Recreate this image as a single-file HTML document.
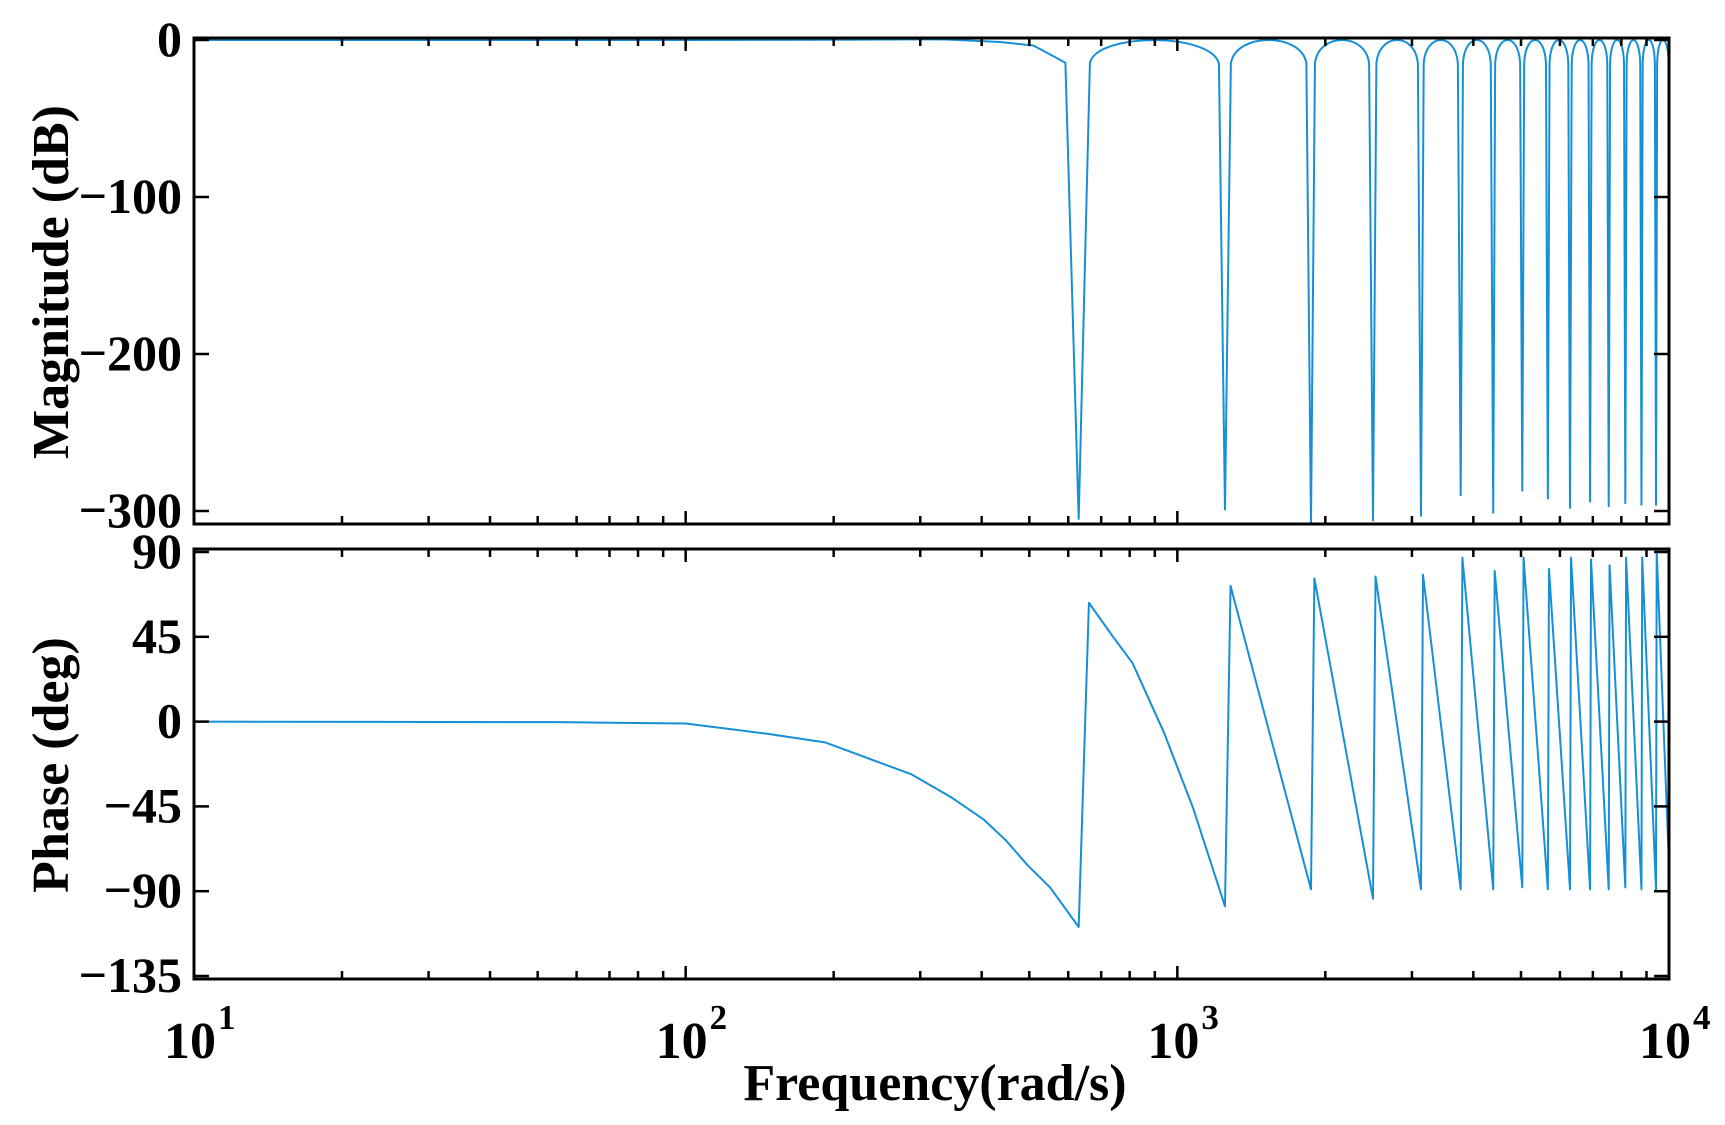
<!DOCTYPE html>
<html><head><meta charset="utf-8"><style>
html,body{margin:0;padding:0;background:#fff;}
svg{display:block;}
text{font-family:"Liberation Serif",serif;font-weight:bold;fill:#000;}
</style></head><body>
<svg id="chart" width="1725" height="1125" viewBox="0 0 1725 1125" xmlns="http://www.w3.org/2000/svg">
<defs>
<clipPath id="clipMag"><rect x="195" y="38" width="1473" height="486"/></clipPath>
<clipPath id="clipPh"><rect x="195" y="549" width="1473" height="430"/></clipPath>
</defs>
<g id="magPanel"></g>
<g id="phPanel"></g>
<text x="935" y="1100" font-size="52" text-anchor="middle">Frequency(rad/s)</text>
<text x="0" y="0" font-size="52" text-anchor="middle" transform="translate(68,282) rotate(-90)">Magnitude (dB)</text>
<text x="0" y="0" font-size="52" text-anchor="middle" transform="translate(68,765) rotate(-90)">Phase (deg)</text>
</svg>
<script>
// ---- data ----
const magLowFreq = [10, 100, 200, 300, 340, 436, 509, 535, 592];
const magLowDb   = [0, 0, 0.2, 0.4, 0.3, -1.3, -3.5, -7, -14.5];
const notchFreq  = [630,1250,1870,2500,3130,3770,4390,5030,5670,6290,6910,7540,8150,8790,9410,10030];
const notchDb    = [-305,-299,-308,-306,-303,-290,-301,-287,-292,-298,-294,-297,-295,-296,-296,-296];
const shoulderLFreq = [597,1215,1830,2455,3085,3720,4340,4980,5620,6240,6860,7490,8100,8740,9360,9990];
const shoulderRFreq = [664,1285,1905,2540,3170,3810,4430,5075,5715,6340,6960,7590,8200,8840,9460,10080];
const shoulderDb = [-14.5,-15,-15,-15,-15,-15,-15,-15,-15,-15,-15,-15,-15,-15,-15,-15];
const lobePeakDb = [0,0,0,0,0,0,0,0,0,0,0,0,0,0,0];
const phLowFreq = [10, 55, 100, 147, 192, 235, 288, 346, 404, 448, 495, 551];
const phLowDeg  = [0, -0.3, -1, -6.5, -11, -19.5, -28, -40, -52, -63, -76, -88];
const phTroughDeg = [-109,-98,-89,-94,-89,-89,-89,-88,-89,-89,-89,-89,-88,-89,-89];
const phPeakFreq  = [661,1283,1900,2530,3160,3800,4420,5060,5700,6320,6940,7570,8180,8820,9440];
const phPeakDeg   = [63,72,76,77,78,87,80,87,81,87,86,83,87,87,90];
const phLobe2Freq = [740, 811, 940, 1077];
const phLobe2Deg  = [45, 31, -6, -46];
const phEndFreq = 10000, phEndDeg = -76;
const magTicks = [0,-100,-200,-300];
const magTickLabels = ["0","\u2212100","\u2212200","\u2212300"];
const phTicks = [90,45,0,-45,-90,-135];
const phTickLabels = ["90","45","0","\u221245","\u221290","\u2212135"];
const decades = [1,2,3,4];

// ---- axes ----
const L=194, R=1669;
const xS = f => L + (Math.log10(f)-1)*(R-L)/3;
const yMag = d => 40 - d*1.57;
const yPh = p => 721.6 - p*1.8844;
const NS="http://www.w3.org/2000/svg";
function mk(tag, attrs, parent){const e=document.createElementNS(NS,tag);for(const k in attrs)e.setAttribute(k,attrs[k]);parent.appendChild(e);return e;}
const svg=document.getElementById('chart');
const LINE="#1590d6";

function frame(g, top, bot, ticks, labels, yf, name){
  const r=mk('rect',{x:L,y:top,width:R-L,height:bot-top,fill:'none',stroke:'#000','stroke-width':3},g);
  
  
  ticks.forEach((t,i)=>{
    const y=yf(t);
    mk('line',{x1:L,y1:y,x2:L+15,y2:y,stroke:'#000','stroke-width':2.5},g);
    mk('line',{x1:R,y1:y,x2:R-15,y2:y,stroke:'#000','stroke-width':2.5},g);
    const tx=mk('text',{x:182,y:y+16,'font-size':50,'text-anchor':'end'},g);
    tx.textContent=labels[i];
    
    
  });
  for(let d=1; d<=4; d++){
    for(let m=1; m<=9; m++){
      if(d===4 && m>1) break;
      const f=m*Math.pow(10,d); const x=xS(f);
      const len = m===1?13:8;
      mk('line',{x1:x,y1:top,x2:x,y2:top+len,stroke:'#000','stroke-width':2.5},g);
      mk('line',{x1:x,y1:bot,x2:x,y2:bot-len,stroke:'#000','stroke-width':2.5},g);
    }
  }
}
const gm=document.getElementById('magPanel');
const gp=document.getElementById('phPanel');

// magnitude line
let dm='';
magLowFreq.forEach((f,i)=>{dm+=(i?'L':'M')+xS(f).toFixed(2)+','+yMag(magLowDb[i]).toFixed(2)+' ';});
notchFreq.forEach((f,i)=>{
  dm+='L'+xS(f).toFixed(2)+','+yMag(notchDb[i]).toFixed(2)+' ';
  dm+='L'+xS(shoulderRFreq[i]).toFixed(2)+','+yMag(shoulderDb[i]).toFixed(2)+' ';
  if(i<notchFreq.length-1){
    const xa=xS(shoulderRFreq[i]), xb=xS(shoulderLFreq[i+1]), w=xb-xa;
    const ys=yMag(shoulderDb[i]), yp=yMag(lobePeakDb[i]);
    const yc=ys+(yp-ys)/0.75;
    dm+='C'+(xa+0.06*w).toFixed(2)+','+yc.toFixed(2)+' '+(xb-0.06*w).toFixed(2)+','+yc.toFixed(2)+' '+xb.toFixed(2)+','+yMag(shoulderDb[i+1]).toFixed(2)+' ';
  }
});
const magG=mk('g',{'clip-path':'url(#clipMag)'},gm);
const mp=mk('path',{d:dm,fill:'none',stroke:LINE,'stroke-width':2,'stroke-linejoin':'round'},magG);



// phase line
let dp='';
phLowFreq.forEach((f,i)=>{dp+=(i?'L':'M')+xS(f).toFixed(2)+','+yPh(phLowDeg[i]).toFixed(2)+' ';});
phTroughDeg.forEach((t,i)=>{
  dp+='L'+xS(notchFreq[i]).toFixed(2)+','+yPh(t).toFixed(2)+' ';
  dp+='L'+xS(phPeakFreq[i]).toFixed(2)+','+yPh(phPeakDeg[i]).toFixed(2)+' ';
  if(i===0) phLobe2Freq.forEach((f,j)=>{dp+='L'+xS(f).toFixed(2)+','+yPh(phLobe2Deg[j]).toFixed(2)+' ';});
});
dp+='L'+xS(phEndFreq).toFixed(2)+','+yPh(phEndDeg).toFixed(2);
const phG=mk('g',{'clip-path':'url(#clipPh)'},gp);
const pp=mk('path',{d:dp,fill:'none',stroke:LINE,'stroke-width':2,'stroke-linejoin':'round'},phG);



frame(gm,38,524,magTicks,magTickLabels,yMag,'magnitude');
frame(gp,549,979,phTicks,phTickLabels,yPh,'phase');

// x tick labels
decades.forEach(d=>{
  const x=xS(Math.pow(10,d));
  const t=mk('text',{x:x-4,y:1058,'font-size':52,'text-anchor':'middle'},svg);
  
  
  t.textContent='10';
  const s=mk('text',{x:x+24,y:1029,'font-size':35,'text-anchor':'start'},svg);
  
  
  s.textContent=String(d);
});
</script>
</body></html>
